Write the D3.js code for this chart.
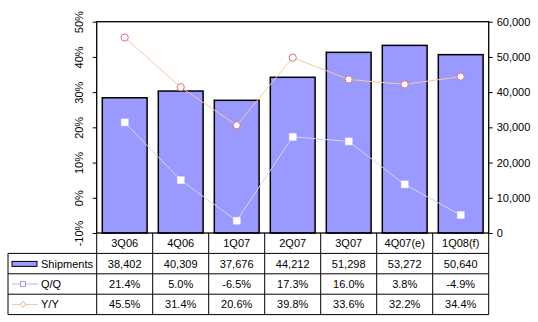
<!DOCTYPE html>
<html><head><meta charset="utf-8">
<script src="https://cdn.jsdelivr.net/npm/d3@7"></script>
<style>
html,body{margin:0;padding:0;background:#fff;}
svg{display:block;font-family:"Liberation Sans",Arial,sans-serif;}
</style></head>
<body>
<svg id="chart" width="538" height="322"></svg>
<script>
const categories = ["3Q06","4Q06","1Q07","2Q07","3Q07","4Q07(e)","1Q08(f)"];
const shipments = [38402,40309,37676,44212,51298,53272,50640];
const qq = [21.4,5.0,-6.5,17.3,16.0,3.8,-4.9];
const yy = [45.5,31.4,20.6,39.8,33.6,32.2,34.4];
const leftTicks = [-10,0,10,20,30,40,50];
const rightTicks = [0,10000,20000,30000,40000,50000,60000];

const svg = d3.select("#chart");
const L = 96.7, R = 488.7, T = 21.7, B = 233;
const tableLeft = 8, rowH = 20.4;

const x = d3.scaleBand().domain(categories).range([L, R]).paddingInner(0.2).paddingOuter(0.1);
const xc = d3.scaleBand().domain(categories).range([L, R]).padding(0);
const yL = d3.scaleLinear().domain([-10, 50]).range([B, T]);
const yR = d3.scaleLinear().domain([0, 60000]).range([B, T]);

// bars
svg.append("g").selectAll("rect").data(shipments).join("rect")
  .attr("x", (d,i) => x(categories[i]))
  .attr("y", d => yR(d))
  .attr("width", x.bandwidth())
  .attr("height", d => B - yR(d))
  .attr("fill", "#9999FF").attr("stroke", "#000").attr("stroke-width", 1.5);

// plot frame
svg.append("rect").attr("x", L).attr("y", T).attr("width", R - L).attr("height", B - T)
  .attr("fill", "none").attr("stroke", "#000").attr("stroke-width", 1.3);

// left axis
const axL = svg.append("g").attr("transform", `translate(${L},0)`)
  .call(d3.axisLeft(yL).tickValues(leftTicks).tickSize(4).tickFormat(d => d + "%"));
axL.select(".domain").remove();
axL.selectAll("line").attr("stroke", "#000");
axL.selectAll("text").attr("x", 0).attr("dy", null)
  .attr("transform", function(d){ return `translate(-18,0) rotate(-90)`; })
  .attr("text-anchor", "middle").attr("dominant-baseline", "central")
  .attr("font-size", 11).attr("fill", "#000");

// right axis
const axR = svg.append("g").attr("transform", `translate(${R},0)`)
  .call(d3.axisRight(yR).tickValues(rightTicks).tickSize(4).tickFormat(d3.format(",")));
axR.select(".domain").remove();
axR.selectAll("line").attr("stroke", "#000");
axR.selectAll("text").attr("x", 8).attr("font-size", 11).attr("fill", "#000");

const cx = i => xc(categories[i]) + xc.bandwidth() / 2;

// Q/Q line
const lineQ = d3.line().x((d,i) => cx(i)).y(d => yL(d));
svg.append("path").datum(qq).attr("d", lineQ).attr("fill", "none")
  .attr("stroke", "#D4D4FA").attr("stroke-width", 1);
svg.append("g").selectAll("rect").data(qq).join("rect")
  .attr("x", (d,i) => cx(i) - 3.5).attr("y", d => yL(d) - 3.5)
  .attr("width", 7).attr("height", 7)
  .attr("fill", "#fff").attr("stroke", "#E8E8FF").attr("stroke-width", 0.6);

// Y/Y line
svg.append("path").datum(yy).attr("d", lineQ).attr("fill", "none")
  .attr("stroke", "#F9C99B").attr("stroke-width", 1);
svg.append("g").selectAll("circle").data(yy).join("circle")
  .attr("cx", (d,i) => cx(i)).attr("cy", d => yL(d)).attr("r", 3.6)
  .attr("fill", "#fff").attr("stroke", "#D9707C").attr("stroke-width", 1);

// data table
const tbl = svg.append("g");
const rowY = i => B + rowH * i;
// horizontal lines
tbl.append("line").attr("x1", tableLeft).attr("x2", R).attr("y1", rowY(1)).attr("y2", rowY(1));
tbl.append("line").attr("x1", tableLeft).attr("x2", R).attr("y1", rowY(2)).attr("y2", rowY(2));
tbl.append("line").attr("x1", tableLeft).attr("x2", R).attr("y1", rowY(3)).attr("y2", rowY(3));
tbl.append("line").attr("x1", tableLeft).attr("x2", R).attr("y1", rowY(4)).attr("y2", rowY(4));
// vertical lines
tbl.append("line").attr("x1", tableLeft).attr("x2", tableLeft).attr("y1", rowY(1)).attr("y2", rowY(4));
categories.forEach((c,i) => {
  tbl.append("line").attr("x1", xc(c)).attr("x2", xc(c)).attr("y1", B).attr("y2", rowY(4));
});
tbl.append("line").attr("x1", R).attr("x2", R).attr("y1", B).attr("y2", rowY(4));
tbl.selectAll("line").attr("stroke", "#000").attr("stroke-width", 1);

const fmtN = d3.format(",");
const fmtP = d => d.toFixed(1) + "%";
const rows = [categories, shipments.map(fmtN), qq.map(fmtP), yy.map(fmtP)];
rows.forEach((r, ri) => {
  tbl.append("g").selectAll("text").data(r).join("text")
    .attr("x", (d,i) => cx(i)).attr("y", rowY(ri) + rowH / 2)
    .attr("text-anchor", "middle").attr("dominant-baseline", "central")
    .attr("font-size", 11).attr("fill", "#000").text(d => d);
});

// row legend keys
const lg = svg.append("g");
lg.append("rect").attr("x", 12).attr("y", rowY(1) + 8).attr("width", 25).attr("height", 5)
  .attr("fill", "#9999FF").attr("stroke", "#000").attr("stroke-width", 1);
lg.append("line").attr("x1", 12).attr("x2", 38).attr("y1", rowY(2) + rowH/2).attr("y2", rowY(2) + rowH/2)
  .attr("stroke", "#B8B8F0").attr("stroke-width", 1);
lg.append("rect").attr("x", 20.5).attr("y", rowY(2) + rowH/2 - 2.5).attr("width", 5).attr("height", 5)
  .attr("fill", "#fff").attr("stroke", "#8888DD").attr("stroke-width", 0.8);
lg.append("line").attr("x1", 12).attr("x2", 38).attr("y1", rowY(3) + rowH/2).attr("y2", rowY(3) + rowH/2)
  .attr("stroke", "#F4C49A").attr("stroke-width", 1);
lg.append("path").attr("d", d3.symbol(d3.symbolDiamond2, 22)())
  .attr("transform", `translate(23,${rowY(3) + rowH/2})`)
  .attr("fill", "#fff").attr("stroke", "#D9907C").attr("stroke-width", 0.8);
const labels = ["Shipments", "Q/Q", "Y/Y"];
lg.selectAll("text.lab").data(labels).join("text")
  .attr("x", 41).attr("y", (d,i) => rowY(i + 1) + rowH / 2)
  .attr("dominant-baseline", "central").attr("font-size", 11).attr("fill", "#000").text(d => d);
</script>
</body></html>
